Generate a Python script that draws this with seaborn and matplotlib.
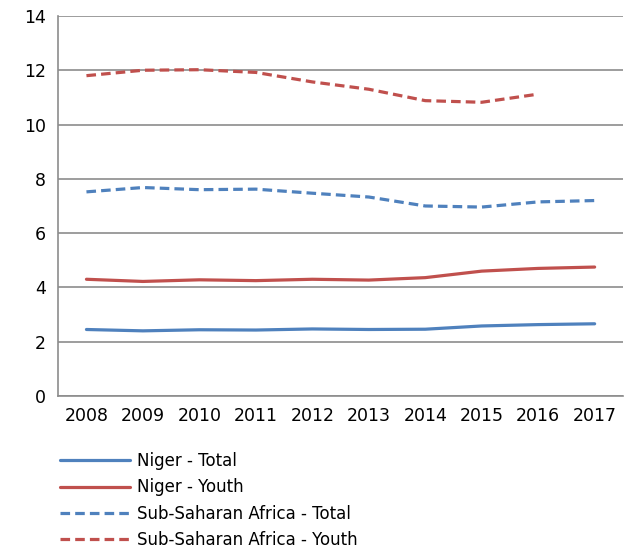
import numpy as np
import pandas as pd
import matplotlib
matplotlib.use("Agg")
import matplotlib.pyplot as plt
import seaborn as sns

years = [2008, 2009, 2010, 2011, 2012, 2013, 2014, 2015, 2016, 2017]
niger_total = [2.45, 2.40, 2.44, 2.43, 2.47, 2.45, 2.46, 2.58, 2.63, 2.66]
niger_youth = [4.30, 4.22, 4.28, 4.25, 4.30, 4.27, 4.36, 4.60, 4.70, 4.75]
ssa_total = [7.52, 7.68, 7.60, 7.62, 7.47, 7.33, 7.00, 6.96, 7.15, 7.20]
ssa_youth = [11.80, 12.00, 12.02, 11.92, 11.57, 11.30, 10.88, 10.82, 11.12]

series_names = ["Niger - Total", "Niger - Youth",
                "Sub-Saharan Africa - Total", "Sub-Saharan Africa - Youth"]
blue = "#4F81BD"
red = "#C0504D"

sns.set_style("white")
plt.rcParams["font.family"] = ["DejaVu Sans"]
plt.rcParams["text.color"] = "black"
plt.rcParams["xtick.labelcolor"] = "black"
plt.rcParams["ytick.labelcolor"] = "black"

fig = plt.figure(figsize=(6.26, 5.5), dpi=100)
ax = fig.add_axes([0.093, 0.28, 0.902, 0.691])

dash = (0, (3.0, 1.6))
styles = [(blue, "-"), (red, "-"), (blue, dash), (red, dash)]
all_vals = [niger_total, niger_youth, ssa_total, ssa_youth]
for name, vals, (c, ls) in zip(series_names, all_vals, styles):
    df = pd.DataFrame({"year": years[:len(vals)], "value": vals})
    sns.lineplot(data=df, x="year", y="value", ax=ax, color=c, linewidth=2.3,
                 linestyle=ls, label=name, legend=False)

ax.set_xlim(2007.5, 2017.5)
ax.set_ylim(0, 14)
ax.set_yticks(range(0, 15, 2))
ax.set_xticks([y - 0.5 for y in years] + [2017.5])
ax.set_xticklabels([])
ax.set_xticks(years, minor=True)
ax.set_xticklabels([str(y) for y in years], minor=True)
ax.tick_params(axis="x", which="major", length=5, width=1.2, color="#8c8c8c", direction="out")
ax.tick_params(axis="x", which="minor", length=0, labelsize=12.5, pad=8, labelcolor="black")
ax.tick_params(axis="y", length=5, width=1.2, color="#8c8c8c", direction="out",
               labelsize=12.5, pad=4, labelcolor="black")
ax.grid(axis="y", color="#8c8c8c", linewidth=1.2)
ax.set_axisbelow(True)
for side in ["top", "right"]:
    ax.spines[side].set_visible(False)
for side in ["left", "bottom"]:
    ax.spines[side].set_color("#8c8c8c")
    ax.spines[side].set_linewidth(1.2)
ax.set_xlabel("")
ax.set_ylabel("")

handles, labels = ax.get_legend_handles_labels()
fig.legend(handles, labels, loc="upper left", bbox_to_anchor=(0.0845, 0.19),
           frameon=False, fontsize=12, handlelength=4.2, handletextpad=0.45,
           labelspacing=0.5, borderaxespad=0, labelcolor="black")

fig.savefig("out.png", dpi=100)
